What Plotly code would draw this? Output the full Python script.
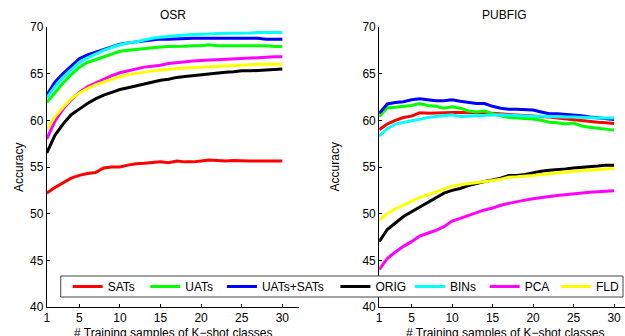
import plotly.graph_objects as go

K = list(range(1, 31))

series_names = ["SATs", "UATs", "UATs+SATs", "ORIG", "BINs", "PCA", "FLD"]
series_colors = ["#ff0000", "#00ff00", "#0000ff", "#000000", "#00ffff", "#ff00ff", "#ffff00"]

# OSR
osr_sats = [52.2, 52.8, 53.3, 53.8, 54.1, 54.3, 54.4, 54.9, 55.0, 55.0, 55.2, 55.35, 55.4, 55.5, 55.55,
            55.45, 55.65, 55.55, 55.55, 55.65, 55.75, 55.7, 55.65, 55.7, 55.65, 55.65, 55.65, 55.65, 55.65, 55.65]
osr_uats = [61.9, 63.0, 64.0, 64.9, 65.7, 66.2, 66.5, 66.8, 67.1, 67.4, 67.5, 67.6, 67.7, 67.8, 67.85,
            67.9, 67.9, 67.95, 68.0, 68.0, 68.1, 68.0, 68.0, 68.0, 68.0, 68.0, 68.0, 68.0, 67.9, 67.9]
osr_both = [62.7, 64.1, 65.0, 65.8, 66.6, 67.0, 67.3, 67.6, 67.9, 68.15, 68.3, 68.4, 68.5, 68.6, 68.7,
            68.7, 68.75, 68.8, 68.8, 68.8, 68.8, 68.8, 68.8, 68.8, 68.8, 68.8, 68.8, 68.7, 68.7, 68.7]
osr_orig = [56.5, 58.4, 59.6, 60.6, 61.2, 61.8, 62.3, 62.7, 63.0, 63.3, 63.5, 63.7, 63.9, 64.1, 64.3,
            64.4, 64.6, 64.7, 64.8, 64.9, 65.0, 65.1, 65.15, 65.2, 65.3, 65.3, 65.35, 65.4, 65.45, 65.5]
osr_bins = [62.4, 63.6, 64.6, 65.4, 66.2, 66.7, 67.1, 67.5, 67.8, 68.1, 68.3, 68.4, 68.6, 68.8, 68.9,
            69.0, 69.1, 69.15, 69.2, 69.2, 69.25, 69.3, 69.3, 69.35, 69.35, 69.35, 69.4, 69.4, 69.4, 69.4]
osr_pca = [58.0, 59.9, 61.2, 62.2, 63.0, 63.6, 64.0, 64.4, 64.8, 65.1, 65.3, 65.5, 65.7, 65.8, 65.9,
           66.1, 66.2, 66.3, 66.35, 66.4, 66.45, 66.5, 66.55, 66.6, 66.6, 66.7, 66.75, 66.8, 66.8, 66.8]
osr_fld = [59.0, 60.4, 61.4, 62.3, 62.9, 63.4, 63.8, 64.1, 64.4, 64.7, 64.9, 65.05, 65.2, 65.3, 65.4,
           65.5, 65.55, 65.6, 65.65, 65.7, 65.75, 65.8, 65.85, 65.9, 65.9, 65.95, 66.0, 66.0, 66.0, 66.0]

# PUBFIG
pub_sats = [59.0, 59.6, 60.0, 60.3, 60.45, 60.8, 60.75, 60.8, 60.8, 60.85, 60.85, 60.8, 60.8, 60.8, 60.75,
            60.7, 60.65, 60.6, 60.55, 60.5, 60.4, 60.35, 60.25, 60.15, 60.05, 59.95, 59.85, 59.8, 59.75, 59.65]
pub_uats = [60.4, 61.35, 61.4, 61.5, 61.6, 61.8, 61.6, 61.5, 61.3, 61.45, 61.3, 61.0, 60.9, 61.0, 60.7,
            60.5, 60.3, 60.25, 60.2, 60.15, 60.0, 59.8, 59.75, 59.6, 59.7, 59.4, 59.25, 59.15, 59.05, 58.95]
pub_both = [60.75, 61.75, 61.9, 62.0, 62.2, 62.3, 62.2, 62.1, 62.1, 62.2, 62.05, 61.9, 61.8, 61.8, 61.5,
            61.3, 61.2, 61.2, 61.15, 61.1, 60.9, 60.7, 60.7, 60.65, 60.6, 60.5, 60.35, 60.25, 60.15, 60.1]
pub_orig = [47.0, 48.3, 49.0, 49.7, 50.2, 50.7, 51.2, 51.7, 52.2, 52.5, 52.7, 53.0, 53.25, 53.45, 53.6,
            53.8, 54.1, 54.1, 54.2, 54.4, 54.55, 54.65, 54.7, 54.8, 54.9, 54.95, 55.0, 55.1, 55.2, 55.2]
pub_bins = [58.3, 59.1, 59.6, 59.8, 59.95, 60.1, 60.3, 60.4, 60.5, 60.6, 60.4, 60.45, 60.5, 60.5, 60.6,
            60.6, 60.55, 60.5, 60.5, 60.45, 60.45, 60.4, 60.4, 60.35, 60.35, 60.3, 60.3, 60.25, 60.25, 60.25]
pub_pca = [44.0, 45.2, 45.9, 46.5, 47.0, 47.6, 47.9, 48.2, 48.6, 49.2, 49.5, 49.8, 50.1, 50.4, 50.6,
           50.9, 51.1, 51.3, 51.45, 51.6, 51.75, 51.85, 51.95, 52.05, 52.15, 52.2, 52.3, 52.35, 52.4, 52.45]
pub_fld = [49.3, 50.0, 50.5, 50.9, 51.3, 51.75, 52.0, 52.3, 52.6, 52.95, 53.1, 53.2, 53.3, 53.4, 53.55,
           53.7, 53.9, 53.95, 54.0, 54.1, 54.2, 54.3, 54.35, 54.45, 54.55, 54.6, 54.65, 54.7, 54.75, 54.85]

osr = [osr_sats, osr_uats, osr_both, osr_orig, osr_bins, osr_pca, osr_fld]
pub = [pub_sats, pub_uats, pub_both, pub_orig, pub_bins, pub_pca, pub_fld]

x_ticks = [1, 5, 10, 15, 20, 25, 30]
y_ticks = [40, 45, 50, 55, 60, 65, 70]

W, H = 625, 336
T, B = 27, 29
PH = H - T - B
FONT = "Liberation Sans, Arial, sans-serif"

def py(yp):
    return 1 - (yp - T) / PH

legend_ids = ["legend"] + ["legend%d" % i for i in range(2, 8)]
legend_text_x = [105, 183, 260, 374, 449, 524, 596]

fig = go.Figure()
for name, color, ys, lid in zip(series_names, series_colors, osr, legend_ids):
    fig.add_trace(go.Scatter(x=K, y=ys, mode="lines", name=name, legend=lid,
                             line=dict(color=color, width=3), xaxis="x", yaxis="y"))
for name, color, ys in zip(series_names, series_colors, pub):
    fig.add_trace(go.Scatter(x=K, y=ys, mode="lines", name=name, showlegend=False,
                             line=dict(color=color, width=3), xaxis="x2", yaxis="y2"))

axis_common = dict(showgrid=False, zeroline=False, showline=True, linecolor="black", linewidth=1,
                   ticks="inside", ticklen=3, tickcolor="black",
                   tickfont=dict(family=FONT, size=12, color="black"))

layout = dict(
    width=W, height=H,
    margin=dict(l=0, r=0, t=T, b=B),
    paper_bgcolor="white", plot_bgcolor="white",
    font=dict(family=FONT, size=12, color="black"),
    xaxis=dict(domain=[44 / W, 297 / W], range=[1, 32], tickvals=x_ticks, anchor="y", **axis_common),
    yaxis=dict(domain=[0, 1], range=[40, 70], tickvals=y_ticks, anchor="x", **axis_common),
    xaxis2=dict(domain=[378 / W, 1.0], range=[1, 31.35], tickvals=x_ticks, anchor="y2", **axis_common),
    yaxis2=dict(domain=[0, 1], range=[40, 70], tickvals=y_ticks, anchor="x2", **axis_common),
    showlegend=True,
)
for lid, tx in zip(legend_ids, legend_text_x):
    layout[lid] = dict(orientation="h", x=(tx - 40) / W, xanchor="left", y=py(286.5), yanchor="middle",
                       bgcolor="rgba(0,0,0,0)", borderwidth=0,
                       font=dict(family=FONT, size=12, color="black"))
fig.update_layout(**layout)

fig.add_shape(type="rect", xref="paper", yref="paper", x0=58 / W, x1=623 / W, y0=py(297), y1=py(276),
              fillcolor="white", line=dict(color="#444444", width=1), layer="above")

annots = [
    dict(text="OSR", x=170.5, y=15),
    dict(text="PUBFIG", x=503.5, y=15),
    dict(text="# Training samples of K\u2212shot classes", x=171, y=333),
    dict(text="# Training samples of K\u2212shot classes", x=504, y=333),
]
for a in annots:
    fig.add_annotation(text=a["text"], x=a["x"] / W, y=py(a["y"]),
                       xref="paper", yref="paper", showarrow=False,
                       xanchor="center", yanchor="middle",
                       font=dict(family=FONT, size=12, color="black"))
for xp in (16, 334):
    fig.add_annotation(text="Accuracy", x=xp / W, y=0.5, xref="paper", yref="paper",
                       showarrow=False, textangle=-90, xanchor="center", yanchor="middle",
                       font=dict(family=FONT, size=12, color="black"))

fig.write_html("out.html", config={"displayModeBar": False},
               post_script="document.body.style.margin='0px';")
